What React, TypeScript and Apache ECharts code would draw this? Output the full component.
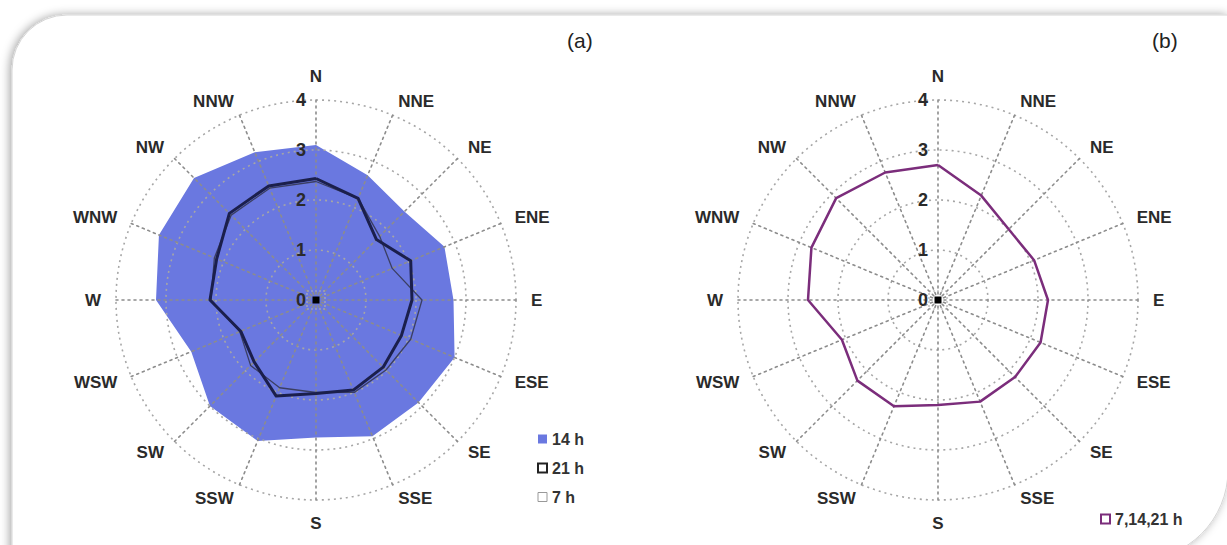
import React, { useEffect, useRef } from 'react';
import * as echarts from 'echarts';

// Indicator order runs counter-clockwise from North (ECharts radar direction)
const directions = ['N', 'NNW', 'NW', 'WNW', 'W', 'WSW', 'SW', 'SSW', 'S', 'SSE', 'SE', 'ESE', 'E', 'ENE', 'NE', 'NNE'];

// Panel (a)
const h14 = [3.1, 3.2, 3.45, 3.4, 3.2, 2.7, 3.0, 3.05, 2.75, 2.95, 2.9, 3.0, 2.75, 2.78, 2.5, 2.7];
const h21 = [2.43, 2.47, 2.45, 2.15, 2.12, 1.63, 1.75, 2.08, 1.87, 1.95, 1.9, 1.85, 1.92, 2.05, 1.71, 2.2];
const h7 = [2.37, 2.42, 2.4, 2.2, 2.1, 1.65, 1.85, 1.9, 1.85, 2.0, 1.98, 2.05, 2.12, 1.65, 1.8, 2.2];

// Panel (b)
const hAll = [2.7, 2.76, 2.88, 2.74, 2.6, 2.08, 2.28, 2.3, 2.1, 2.2, 2.18, 2.22, 2.2, 2.08, 2.0, 2.26];

const axisMin = 0;
const axisMax = 4;
const axisSplits = 4;

const seriesNames = { a: ['14 h', '21 h', '7 h'], b: ['7,14,21 h'] };

export default function App() {
  const ref = useRef<HTMLDivElement>(null);

  useEffect(() => {
    const chart = echarts.init(ref.current!, null, { renderer: 'svg' });
    const font = '"Liberation Sans", Arial, sans-serif';
    const centers: [number, number][] = [[316, 300], [938, 300]];
    const R = 200;

    const indicators = directions.map((d, i) => ({
      name: d,
      min: axisMin,
      max: axisMax,
      ...(i === 0 ? { axisLabel: { show: true } } : {}),
    }));

    const radarBase = (c: [number, number]) => ({
      z: 3,
      center: c,
      radius: R,
      startAngle: 90,
      splitNumber: axisSplits,
      shape: 'circle',
      indicator: indicators.map((x) => ({ ...x })),
      axisName: { color: '#2a2a2a', fontSize: 17, fontFamily: font, fontWeight: 'bold' },
      nameGap: 15,
      axisLine: { lineStyle: { color: '#8c8c8c', type: [2, 4], width: 1.6 } },
      splitLine: { lineStyle: { color: '#a6a6a6', type: [2, 4], width: 1.6 } },
      splitArea: { show: false },
      axisTick: { show: false },
      axisLabel: { show: false, color: '#2a2a2a', fontSize: 18, fontFamily: font, fontWeight: 'bold', margin: 10 },
    });

    const blue = '#6a78e0';
    const purple = '#7b2d7b';

    const deco = centers.flatMap((c) => [
      {
        type: 'rect',
        shape: { x: c[0] - 9, y: c[1] - 9, width: 18, height: 18 },
        style: { fill: 'none', stroke: '#b0b0b0', lineWidth: 1.2, lineDash: [2, 2] },
        z: 10,
      },
      {
        type: 'rect',
        shape: { x: c[0] - 3.5, y: c[1] - 3.5, width: 7, height: 7 },
        style: { fill: '#000' },
        z: 11,
      },
    ]);

    chart.setOption({
      animation: false,
      backgroundColor: '#ffffff',
      title: [
        { text: '(a)', left: 562, top: 25, textStyle: { fontSize: 21, fontWeight: 'normal', color: '#222', fontFamily: font } },
        { text: '(b)', left: 1147, top: 25, textStyle: { fontSize: 21, fontWeight: 'normal', color: '#222', fontFamily: font } },
      ],
      graphic: [
        {
          type: 'rect',
          shape: { x: 12, y: 15, width: 1216, height: 545, r: [55, 0, 90, 0] },
          style: {
            fill: '#fff',
            stroke: '#d6d6d6',
            lineWidth: 1,
            shadowBlur: 10,
            shadowColor: 'rgba(0,0,0,0.35)',
            shadowOffsetX: -2,
          },
          z: -10,
        },
        ...deco,
      ],
      legend: [
        {
          orient: 'vertical',
          left: 532,
          top: 426,
          itemWidth: 9,
          itemHeight: 9,
          itemGap: 13,
          selectedMode: false,
          textStyle: { fontSize: 16, fontWeight: 'bold', color: '#333', fontFamily: font },
          data: [
            { name: seriesNames.a[0], icon: 'rect', itemStyle: { color: blue, borderWidth: 0 } },
            { name: seriesNames.a[1], icon: 'rect', itemStyle: { color: '#fff', borderColor: '#222', borderWidth: 2 } },
            { name: seriesNames.a[2], icon: 'rect', itemStyle: { color: '#fff', borderColor: '#999', borderWidth: 1 } },
          ],
        },
        {
          orient: 'vertical',
          left: 1095,
          top: 506,
          itemWidth: 9,
          itemHeight: 9,
          selectedMode: false,
          textStyle: { fontSize: 16, fontWeight: 'bold', color: '#333', fontFamily: font },
          data: [{ name: seriesNames.b[0], icon: 'rect', itemStyle: { color: '#fff', borderColor: purple, borderWidth: 2 } }],
        },
      ],
      radar: [radarBase(centers[0]), radarBase(centers[1])],
      series: [
        {
          type: 'radar',
          radarIndex: 0,
          z: 1,
          symbol: 'none',
          data: [
            {
              name: seriesNames.a[0],
              value: h14,
              itemStyle: { color: blue },
              lineStyle: { width: 0, color: blue },
              areaStyle: { color: blue, opacity: 1 },
            },
          ],
        },
        {
          type: 'radar',
          radarIndex: 0,
          z: 5,
          symbol: 'none',
          data: [
            {
              name: seriesNames.a[2],
              value: h7,
              itemStyle: { color: '#999' },
              lineStyle: { width: 1.3, color: '#3b3f62' },
            },
            {
              name: seriesNames.a[1],
              value: h21,
              itemStyle: { color: '#222' },
              lineStyle: { width: 3, color: '#1b1f4c' },
            },
          ],
        },
        {
          type: 'radar',
          radarIndex: 1,
          z: 5,
          symbol: 'none',
          data: [
            {
              name: seriesNames.b[0],
              value: hAll,
              itemStyle: { color: purple },
              lineStyle: { width: 2.5, color: purple },
            },
          ],
        },
      ],
    });

    return () => chart.dispose();
  }, []);

  return <div ref={ref} style={{ position: 'fixed', left: 0, top: 0, width: 1227, height: 545 }} />;
}
